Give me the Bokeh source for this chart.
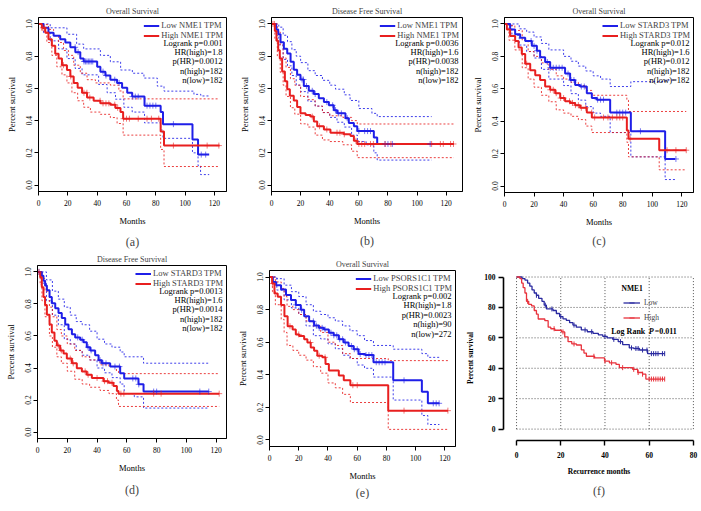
import numpy as np
from bokeh.plotting import figure
from bokeh.layouts import row, column
from bokeh.models import Range1d, FixedTicker, Legend, LegendItem, Label, Title, Spacer
from bokeh.embed import file_html
from bokeh.resources import INLINE

FONT = "Liberation Serif"
BLUE = "#1f1fe8"
RED = "#e81f1f"
F_BLUE = "#2a2aa0"
F_RED = "#e8323c"

km_xticks = [0, 20, 40, 60, 80, 100, 120]
km_yticks = [0.0, 0.2, 0.4, 0.6, 0.8, 1.0]
km_ylabels = ["0.0", "0.2", "0.4", "0.6", "0.8", "1.0"]
f_xticks = [0, 20, 40, 60, 80]
f_yticks = [0, 20, 40, 60, 80, 100]

# ---------------- panel (a) : Overall survival, NME1 ----------------
a_low = [(0, 1.0), (3.4, 0.976), (6.8, 0.946), (10.3, 0.926), (14.8, 0.905), (18.3, 0.885), (21.7, 0.855),
         (25.1, 0.825), (28.5, 0.785), (30.8, 0.767), (40, 0.734), (42.2, 0.704), (45.6, 0.68), (49, 0.654),
         (53.6, 0.634), (57, 0.604), (60.5, 0.573), (63.9, 0.549), (72.3, 0.493), (83.3, 0.453), (84.9, 0.378),
         (105, 0.283), (108.8, 0.189), (116.4, 0.189)]
a_high = [(0, 1.0), (2.3, 0.976), (4.6, 0.946), (6.8, 0.905), (9.1, 0.865), (11.4, 0.815), (13.7, 0.785),
          (16, 0.744), (19.4, 0.714), (21.7, 0.674), (24, 0.634), (26.7, 0.604), (29.7, 0.573), (33.1, 0.543),
          (37.6, 0.523), (42.2, 0.507), (49, 0.499), (52.5, 0.479), (55.9, 0.453), (57.7, 0.412), (83.3, 0.332),
          (85.6, 0.245), (123.5, 0.245)]
a_low_upper = [(0, 1.0), (8, 0.976), (19.4, 0.936), (26, 0.875), (30.8, 0.845), (42.2, 0.805), (49, 0.765),
               (56, 0.714), (64, 0.694), (71.9, 0.664), (81, 0.614), (85.6, 0.583), (106, 0.563), (110.7, 0.553),
               (116.4, 0.553)]
a_low_lower = [(0, 1.0), (3.4, 0.946), (8, 0.895), (13.7, 0.845), (19.4, 0.785), (25, 0.724), (29.7, 0.684),
               (41, 0.624), (46.8, 0.573), (52.5, 0.533), (58.2, 0.483), (63.9, 0.453), (72.3, 0.386),
               (83.3, 0.342), (84.9, 0.29), (105, 0.2), (108.8, 0.12), (110.5, 0.065), (116.4, 0.065)]
a_high_upper = [(0, 1.0), (2.3, 0.996), (6.8, 0.966), (10.3, 0.926), (13.7, 0.885), (17.1, 0.835), (20.5, 0.805),
                (24, 0.744), (28.5, 0.694), (33.1, 0.654), (38.8, 0.634), (49, 0.62), (54.8, 0.584),
                (57.7, 0.535), (123.5, 0.535)]
a_high_lower = [(0, 1.0), (2.3, 0.956), (5.7, 0.885), (9.1, 0.805), (12.5, 0.734), (16, 0.684), (19.4, 0.634),
                (22.8, 0.573), (26.7, 0.523), (30.8, 0.483), (35.4, 0.453), (42.2, 0.439), (49, 0.419),
                (53.6, 0.382), (57.7, 0.31), (83.3, 0.221), (85.6, 0.115), (123.5, 0.115)]
a_low_cens = [25, 27, 31, 32, 33, 34, 35, 36, 37, 44, 46, 52, 55, 64, 66, 68, 74, 76, 78, 80, 92, 111, 114]
a_high_cens = [3, 4, 17, 22, 31, 33, 35, 42, 44, 46, 48, 52, 54, 58, 60, 62, 68, 74, 77, 82, 92, 115, 123]
a_stats = ["Logrank p=0.001", "HR(high)=1.8", "p(HR)=0.0012", "n(high)=182", "n(low)=182"]

# ---------------- panel (b) : Disease free survival, NME1 ----------------
b_low = [(0, 1.0), (3.2, 0.966), (4.6, 0.936), (6.2, 0.886), (8.5, 0.846), (10.8, 0.816), (13.1, 0.766),
         (15.3, 0.715), (17.6, 0.685), (19.9, 0.655), (22.2, 0.615), (25.6, 0.585), (29.1, 0.565), (32.5, 0.539),
         (36, 0.515), (39.4, 0.495), (42.8, 0.465), (45.1, 0.445), (50.8, 0.415), (53.1, 0.385), (56.6, 0.365),
         (58.9, 0.335), (70.3, 0.295), (72.6, 0.255), (110, 0.255)]
b_high = [(0, 1.0), (2.3, 0.956), (3.4, 0.896), (4.6, 0.836), (5.7, 0.786), (7.3, 0.705), (9.2, 0.645),
          (10.8, 0.595), (12.6, 0.555), (15.3, 0.525), (17.6, 0.485), (19.9, 0.445), (23.4, 0.435), (26.8, 0.425),
          (29.1, 0.395), (31.4, 0.365), (36, 0.345), (40.5, 0.325), (49.7, 0.315), (54.3, 0.305), (56.6, 0.275),
          (58.9, 0.255), (125.3, 0.255)]
b_low_upper = [(0, 1.0), (5, 0.98), (8, 0.93), (11, 0.89), (14, 0.84), (17, 0.8), (20, 0.76), (25, 0.71),
               (30, 0.68), (35, 0.65), (40, 0.62), (44, 0.595), (50, 0.56), (54, 0.525), (60, 0.475), (69, 0.445),
               (72.6, 0.425), (110, 0.425)]
b_low_lower = [(0, 1.0), (3.2, 0.93), (5, 0.87), (8, 0.78), (11, 0.74), (14, 0.68), (17, 0.62), (20, 0.58),
               (25, 0.52), (30, 0.49), (35, 0.45), (40, 0.42), (45, 0.39), (50, 0.36), (55, 0.31), (59, 0.27),
               (65, 0.25), (70.3, 0.2), (72.6, 0.155), (110, 0.155)]
b_high_upper = [(0, 1.0), (2.3, 1.0), (4, 0.95), (6, 0.87), (8, 0.79), (10, 0.73), (13, 0.66), (16, 0.62),
                (20, 0.55), (25, 0.53), (30, 0.49), (35, 0.45), (40, 0.43), (49, 0.42), (55, 0.4), (58.9, 0.379),
                (125.3, 0.379)]
b_high_lower = [(0, 1.0), (2.3, 0.91), (4, 0.8), (6, 0.7), (8, 0.62), (10, 0.55), (13, 0.48), (16, 0.44),
                (20, 0.38), (25, 0.36), (30, 0.31), (35, 0.28), (40, 0.27), (49, 0.25), (55, 0.21), (58.9, 0.17),
                (125.3, 0.17)]
b_low_cens = [21, 22, 24, 28, 30, 38, 42, 44, 46, 48, 52, 60, 64, 66, 68, 78, 80, 83, 109]
b_high_cens = [1, 2, 28, 33, 38, 45, 47, 50, 58, 60, 62, 64, 68, 70, 78, 82, 110, 116, 118, 123, 125]
b_stats = ["Logrank p=0.0036", "HR(high)=1.6", "p(HR)=0.0038", "n(high)=182", "n(low)=182"]

# ---------------- panel (c) : Overall survival, STARD3 ----------------
c_low = [(0, 1.0), (3.8, 0.966), (7.2, 0.936), (10.6, 0.915), (14, 0.895), (18.5, 0.865), (21.9, 0.835),
         (24.1, 0.795), (27.5, 0.765), (30.9, 0.73), (41, 0.694), (44.4, 0.654), (47.8, 0.624), (51.2, 0.614),
         (55.7, 0.573), (59.1, 0.543), (62.5, 0.533), (71.5, 0.453), (85.5, 0.338), (108.7, 0.167),
         (115.5, 0.167)]
c_high = [(0, 1.0), (1.6, 0.966), (3.8, 0.926), (7.2, 0.895), (9.5, 0.855), (11.7, 0.815), (14, 0.755),
          (17.4, 0.714), (20.8, 0.684), (24.1, 0.654), (27.5, 0.614), (30.9, 0.594), (34.3, 0.573), (37.7, 0.543),
          (41, 0.523), (44.4, 0.513), (47.8, 0.499), (51.2, 0.483), (55.7, 0.453), (59.1, 0.423), (82.8, 0.342),
          (83.9, 0.292), (104.7, 0.221), (123, 0.221)]
c_low_upper = [(0, 1.0), (5, 1.0), (10, 0.97), (15, 0.95), (20, 0.92), (25, 0.88), (30, 0.84), (40, 0.8),
               (45, 0.77), (50, 0.74), (55, 0.71), (60, 0.68), (65, 0.66), (71.5, 0.614), (85.5, 0.644),
               (108.7, 0.654), (115.5, 0.654)]
c_low_lower = [(0, 1.0), (5, 0.93), (10, 0.87), (15, 0.83), (20, 0.79), (25, 0.72), (30, 0.66), (40, 0.62),
               (45, 0.57), (50, 0.53), (55, 0.49), (60, 0.45), (65, 0.43), (71.5, 0.33), (85.5, 0.18),
               (108.7, 0.04), (115.5, 0.04)]
c_high_upper = [(0, 1.0), (3, 0.99), (7, 0.96), (12, 0.9), (16, 0.83), (20, 0.8), (25, 0.76), (30, 0.72),
                (35, 0.68), (40, 0.66), (45, 0.64), (50, 0.62), (55, 0.59), (59.1, 0.56), (82.8, 0.53),
                (83.9, 0.46), (123, 0.46)]
c_high_lower = [(0, 1.0), (3, 0.9), (7, 0.84), (12, 0.73), (16, 0.66), (20, 0.61), (25, 0.56), (30, 0.52),
                (35, 0.47), (40, 0.45), (45, 0.43), (50, 0.41), (55, 0.37), (59.1, 0.33), (82.8, 0.27),
                (83.9, 0.18), (104.7, 0.1), (123, 0.1)]
c_low_cens = [18, 20, 22, 29, 31, 33, 35, 37, 39, 43, 45, 47, 52, 54, 63, 65, 67, 76, 78, 80, 82, 92, 116]
c_high_cens = [15, 31, 33, 35, 38, 40, 44, 46, 48, 50, 52, 55, 59, 61, 67, 70, 73, 76, 78, 80, 85, 110, 116, 123]
c_stats = ["Logrank p=0.012", "HR(high)=1.6", "p(HR)=0.012", "n(high)=182", "n(low)=182"]

# ---------------- panel (d) : Disease free survival, STARD3 ----------------
d_low = [(0, 1.0), (2.9, 0.976), (4, 0.945), (5.1, 0.915), (6.3, 0.885), (8.1, 0.844), (9.6, 0.804),
         (11.9, 0.773), (14.1, 0.743), (16.3, 0.713), (18.6, 0.672), (20.8, 0.642), (23.1, 0.611), (25.3, 0.591),
         (28.7, 0.577), (30.9, 0.561), (33.1, 0.53), (35.4, 0.51), (38.7, 0.48), (41, 0.449), (43.2, 0.429),
         (48.8, 0.409), (55.5, 0.368), (58.2, 0.335), (67.8, 0.298), (71.2, 0.253), (115, 0.253)]
d_high = [(0, 1.0), (1.8, 0.966), (2.9, 0.905), (4, 0.844), (5.1, 0.794), (6.3, 0.733), (8.1, 0.672),
          (9.6, 0.621), (11.4, 0.571), (13, 0.54), (15.2, 0.51), (17.5, 0.49), (19.7, 0.459), (23.1, 0.429),
          (26.4, 0.399), (29.8, 0.379), (33.1, 0.358), (36.5, 0.338), (44.3, 0.318), (47.7, 0.308), (51, 0.287),
          (53.3, 0.257), (54.4, 0.24), (122, 0.24)]
d_low_upper = [(0, 1.0), (3, 1.0), (6, 0.95), (10, 0.88), (14, 0.83), (18, 0.78), (22, 0.73), (26, 0.69),
               (30, 0.67), (35, 0.63), (40, 0.58), (45, 0.55), (50, 0.53), (55.5, 0.5), (58.2, 0.47),
               (71.2, 0.43), (115, 0.43)]
d_low_lower = [(0, 1.0), (3, 0.93), (6, 0.82), (10, 0.73), (14, 0.67), (18, 0.58), (22, 0.55), (26, 0.51),
               (30, 0.48), (35, 0.45), (40, 0.4), (45, 0.37), (50, 0.34), (55.5, 0.3), (58.2, 0.24), (65, 0.22),
               (71.2, 0.15), (115, 0.15)]
d_high_upper = [(0, 1.0), (1.8, 1.0), (3, 0.96), (5, 0.88), (8, 0.78), (10, 0.72), (13, 0.64), (16, 0.6),
                (20, 0.55), (25, 0.51), (30, 0.47), (35, 0.45), (42, 0.42), (48, 0.41), (53, 0.38),
                (54.4, 0.365), (122, 0.365)]
d_high_lower = [(0, 1.0), (1.8, 0.92), (3, 0.82), (5, 0.72), (8, 0.6), (10, 0.53), (13, 0.47), (16, 0.43),
                (20, 0.38), (25, 0.33), (30, 0.3), (35, 0.28), (42, 0.26), (48, 0.24), (53, 0.2), (54.4, 0.16),
                (122, 0.16)]
d_low_cens = [1, 27, 30, 34, 36, 42, 44, 46, 52, 55, 64, 66, 68, 78, 80, 109, 115]
d_high_cens = [1, 14, 16, 22, 24, 32, 34, 40, 45, 47, 50, 56, 58, 78, 83, 122]
d_stats = ["Logrank p=0.0013", "HR(high)=1.6", "p(HR)=0.0014", "n(high)=182", "n(low)=182"]

# ---------------- panel (e) : Overall survival, PSORS1C1 ----------------
e_low = [(0, 1.0), (2.3, 0.97), (4.5, 0.95), (7.9, 0.924), (11.3, 0.889), (14.7, 0.859), (18, 0.829),
         (21.4, 0.799), (23.7, 0.759), (27.1, 0.728), (30.5, 0.702), (33.8, 0.688), (37.2, 0.678), (40.6, 0.658),
         (43.9, 0.642), (47.4, 0.618), (50.8, 0.598), (54.1, 0.577), (57.5, 0.557), (60.9, 0.527), (65.4, 0.521),
         (71.1, 0.477), (84.6, 0.366), (104.2, 0.296), (108.3, 0.225), (116.2, 0.225)]
e_high = [(0, 1.0), (1.8, 0.96), (3.4, 0.899), (5.6, 0.879), (7.9, 0.829), (10.2, 0.759), (12.4, 0.698),
          (15.8, 0.678), (18, 0.648), (20.3, 0.638), (23.7, 0.618), (25.9, 0.598), (28.2, 0.567), (30.5, 0.547),
          (32.7, 0.517), (36.1, 0.507), (38.3, 0.467), (40.6, 0.427), (47.4, 0.396), (50.8, 0.366), (55.3, 0.336),
          (81.2, 0.18), (122, 0.18)]
e_low_upper = [(0, 1.0), (5, 0.99), (10, 0.95), (15, 0.91), (20, 0.88), (25, 0.83), (30, 0.79), (35, 0.77),
               (40, 0.75), (45, 0.73), (50, 0.7), (55, 0.67), (60, 0.64), (65, 0.61), (71.1, 0.58), (84.6, 0.557),
               (104.2, 0.53), (108.3, 0.507), (116.2, 0.507)]
e_low_lower = [(0, 1.0), (5, 0.92), (10, 0.86), (15, 0.81), (20, 0.77), (25, 0.7), (30, 0.64), (35, 0.62),
               (40, 0.59), (45, 0.56), (50, 0.52), (55, 0.5), (60, 0.46), (65, 0.44), (71.1, 0.386), (84.6, 0.245),
               (104.2, 0.15), (108.3, 0.095), (116.2, 0.095)]
e_high_upper = [(0, 1.0), (2, 1.0), (4, 0.97), (8, 0.93), (10, 0.88), (12, 0.82), (16, 0.8), (20, 0.77),
                (25, 0.73), (30, 0.7), (35, 0.66), (40, 0.6), (45, 0.58), (50, 0.53), (55.3, 0.5), (81.2, 0.487),
                (122, 0.487)]
e_high_lower = [(0, 1.0), (2, 0.91), (4, 0.83), (8, 0.74), (10, 0.66), (12, 0.58), (16, 0.55), (20, 0.52),
                (25, 0.49), (30, 0.45), (35, 0.41), (40, 0.35), (45, 0.32), (50, 0.28), (55.3, 0.23),
                (81.2, 0.065), (122, 0.065)]
e_low_cens = [18, 22, 30, 32, 34, 36, 38, 42, 44, 46, 48, 50, 52, 56, 58, 60, 62, 66, 68, 70, 73, 75, 77, 79,
              92, 112, 114, 116]
e_high_cens = [2, 14, 20, 28, 34, 38, 57, 60, 92, 122]
e_stats = ["Logrank p=0.002", "HR(high)=1.8", "p(HR)=0.0023", "n(high)=90", "n(low)=272"]

# ---------------- panel (f) : Recurrence, NME1 (percent) ----------------
f_low = [(0, 100), (2.5, 99), (3.8, 98), (5, 96), (6, 94), (7, 91.5), (8, 89.5), (9, 88), (10, 86), (11.5, 84),
         (12.5, 81.5), (13.5, 79), (16.5, 78), (18, 76), (19.5, 74), (21, 72.5), (22.5, 71.5), (24, 70),
         (25.5, 68.4), (27, 67), (29.3, 65.2), (32, 64), (34.6, 63), (37, 62), (39, 61), (41, 60), (43.5, 59),
         (46, 57.5), (48, 55.6), (51, 53.4), (53, 53), (55.6, 52), (59.3, 49.6), (67, 49.6)]
f_high = [(0, 100), (1.5, 99), (2.3, 96), (3, 93), (3.8, 89.5), (4.5, 84), (5.5, 82), (6.8, 81), (8, 78),
          (9, 75.6), (9.8, 72.4), (12.8, 71.3), (14.3, 67), (15.5, 66), (17.3, 65), (20.3, 63.9), (21.8, 60.7),
          (23.3, 57.5), (25, 56), (27.1, 55.3), (29.3, 52.1), (30.5, 50), (31.6, 47.9), (35.3, 46.8),
          (39.8, 44.7), (42, 43.6), (45, 42.5), (46.5, 40.4), (52.5, 39.3), (54.8, 37.2), (57, 36.1),
          (58.5, 32.9), (67, 32.9)]
f_low_cens = [9, 13, 16, 20, 26, 31, 34, 40, 44, 47, 52, 54, 55, 57, 59, 61, 62, 63, 64, 66, 67]
f_high_cens = [5, 17, 21, 26, 35, 40, 43, 48, 53, 55, 57, 60, 61, 62, 63, 64, 65, 66, 67]


def xs(c):
    return [q[0] for q in c]


def ys(c):
    return [q[1] for q in c]


def at(curve, times):
    t = np.array(xs(curve))
    s = np.array(ys(curve))
    idx = np.searchsorted(t, np.array(times, dtype=float), side="right") - 1
    return s[np.clip(idx, 0, len(s) - 1)]


def base_axes(p, bold=False, tick_size="7.5px", lab_size="8.5px"):
    p.grid.visible = False
    p.background_fill_color = "white"
    p.border_fill_color = "white"
    p.axis.axis_line_color = "black"
    p.axis.major_tick_line_color = "black"
    p.axis.minor_tick_line_color = None
    p.axis.major_tick_out = 4
    p.axis.major_tick_in = 0
    p.axis.major_label_text_font = FONT
    p.axis.major_label_text_font_size = tick_size
    p.axis.major_label_text_color = "black"
    p.axis.axis_label_text_font = FONT
    p.axis.axis_label_text_font_size = lab_size
    p.axis.axis_label_text_color = "black"
    p.axis.axis_label_text_font_style = "bold" if bold else "normal"
    p.axis.major_label_text_font_style = "bold" if bold else "normal"


def tag_title(p, tag, standoff):
    p.add_layout(Title(text=f"({tag})", align="center", vertical_align="bottom", text_font=FONT,
                       text_font_size="12px", text_font_style="normal", standoff=standoff), "below")


def km_panel(title, tag, gene, low, high, low_up, low_lo, high_up, high_lo, low_c, high_c, stats, geom):
    w, bl, br, bt, fh, bb, xmax, tag_so = geom
    fw = w - bl - br
    p = figure(width=w, height=bt + fh + bb, min_border_left=bl, min_border_right=br,
               min_border_top=bt, min_border_bottom=bb, x_range=Range1d(0, xmax),
               y_range=Range1d(-0.04, 1.04), output_backend="svg", toolbar_location=None, title=title)
    p.title.align = "center"
    p.title.vertical_align = "middle"
    p.title.text_font = FONT
    p.title.text_font_size = "8px"
    p.title.text_font_style = "normal"
    p.title.standoff = 2
    p.outline_line_color = "black"
    p.outline_line_alpha = 1
    base_axes(p)
    p.xaxis.ticker = FixedTicker(ticks=km_xticks)
    p.yaxis.ticker = FixedTicker(ticks=km_yticks)
    p.yaxis.major_label_overrides = dict(zip(km_yticks, km_ylabels))
    p.yaxis.major_label_orientation = "vertical"
    p.xaxis.major_label_standoff = 4
    p.yaxis.major_label_standoff = 2
    p.xaxis.axis_label_standoff = 7
    p.yaxis.axis_label_standoff = 7
    p.xaxis.axis_label = "Months"
    p.yaxis.axis_label = "Percent survival"

    for c, col in ((low_up, BLUE), (low_lo, BLUE), (high_up, RED), (high_lo, RED)):
        p.step(xs(c), ys(c), mode="after", line_color=col, line_width=1, line_dash="2 2", line_alpha=0.85)
    rl = p.step(xs(low), ys(low), mode="after", line_color=BLUE, line_width=2)
    rh = p.step(xs(high), ys(high), mode="after", line_color=RED, line_width=2)
    p.scatter(low_c, at(low, low_c), marker="cross", size=6, line_color=BLUE, line_alpha=0.6, line_width=1)
    p.scatter(high_c, at(high, high_c), marker="cross", size=6, line_color=RED, line_alpha=0.6, line_width=1)

    leg = Legend(items=[LegendItem(label=f"Low {gene} TPM", renderers=[rl]),
                        LegendItem(label=f"High {gene} TPM", renderers=[rh])],
                 location="top_right", margin=2, padding=1, spacing=-2, label_height=9, glyph_height=9,
                 glyph_width=16, label_standoff=2, label_text_font=FONT, label_text_font_size="8.5px",
                 border_line_alpha=0, background_fill_alpha=0)
    p.add_layout(leg)
    for i, s in enumerate(stats):
        off = 25.8 + 9.6 * i
        p.add_layout(Label(x=xmax * (fw - 4) / fw, y=1.04 - off / fh * 1.08, text=s, text_align="right",
                           text_baseline="middle", text_font=FONT, text_font_size="8.5px", text_color="black"))
    tag_title(p, tag, tag_so)
    return p


# geometry: width, border left, right, top, frame height, border bottom, x max, tag standoff
pa = km_panel("Overall Survival", "a", "NME1", a_low, a_high, a_low_upper, a_low_lower, a_high_upper,
              a_high_lower, a_low_cens, a_high_cens, a_stats, (234, 38, 8, 17, 179, 56, 128.2, 7.6))
pb = km_panel("Disease Free Survival", "b", "NME1", b_low, b_high, b_low_upper, b_low_lower, b_high_upper,
              b_high_lower, b_low_cens, b_high_cens, b_stats, (234, 37, 6, 17, 179, 54, 131.2, 5.6))
pc = km_panel("Overall Survival", "c", "STARD3", c_low, c_high, c_low_upper, c_low_lower, c_high_upper,
              c_high_lower, c_low_cens, c_high_cens, c_stats, (232, 36, 7, 17, 179, 54, 127.9, 5))
pd_ = km_panel("Disease Free Survival", "d", "STARD3", d_low, d_high, d_low_upper, d_low_lower, d_high_upper,
               d_high_lower, d_low_cens, d_high_cens, d_stats, (234, 37, 8, 13, 178, 58, 126.9, 10))
pe = km_panel("Overall Survival", "e", "PSORS1C1", e_low, e_high, e_low_upper, e_low_lower, e_high_upper,
              e_high_lower, e_low_cens, e_high_cens, e_stats, (229, 33, 8, 13, 179, 50, 127.2, 0))

# ---------------- panel (f) ----------------
F_BT, F_FH, F_BB = 23, 170, 56
pf = figure(width=237, height=F_BT + F_FH + F_BB, min_border_left=39, min_border_right=6, min_border_top=F_BT,
            min_border_bottom=F_BB, x_range=Range1d(-5.9, 80.5), y_range=Range1d(-7.5, 101),
            output_backend="svg", toolbar_location=None)
pf.outline_line_color = None
base_axes(pf, bold=True, tick_size="7.5px", lab_size="7.5px")
nx, ny = len(f_xticks), len(f_yticks)
pf.segment(x0=f_xticks, y0=[f_yticks[0]] * nx, x1=f_xticks, y1=[f_yticks[-1]] * nx,
           line_color="#555555", line_dash="1 2", line_width=1)
pf.segment(x0=[f_xticks[0]] * ny, y0=f_yticks, x1=[f_xticks[-1]] * ny, y1=f_yticks,
           line_color="#555555", line_dash="1 2", line_width=1)
fl = pf.step(xs(f_low), ys(f_low), mode="after", line_color=F_BLUE, line_width=1.3)
fh_ = pf.step(xs(f_high), ys(f_high), mode="after", line_color=F_RED, line_width=1.3)
tl = pf.scatter(f_low_cens, at(f_low, f_low_cens), marker="dash", angle=np.pi / 2, size=5,
                line_color=F_BLUE, line_width=1)
th = pf.scatter(f_high_cens, at(f_high, f_high_cens), marker="dash", angle=np.pi / 2, size=5,
                line_color=F_RED, line_width=1)
pf.xaxis.ticker = FixedTicker(ticks=f_xticks)
pf.yaxis.ticker = FixedTicker(ticks=f_yticks)
pf.xaxis.bounds = (f_xticks[0], f_xticks[-1])
pf.yaxis.bounds = (f_yticks[0], f_yticks[-1])
pf.axis.axis_line_width = 1.6
pf.axis.major_tick_line_width = 1.4
pf.axis.major_tick_out = 5
pf.xaxis.major_label_standoff = 6
pf.yaxis.major_label_standoff = 3
pf.xaxis.axis_label_standoff = 6
pf.yaxis.axis_label_standoff = 6
pf.xaxis.axis_label = "Recurrence months"
pf.yaxis.axis_label = "Percent survival"
fleg = Legend(items=[LegendItem(label="Low", renderers=[fl, tl]), LegendItem(label="High", renderers=[fh_, th])],
              location=(120, 116), label_text_font=FONT, label_text_font_size="7.5px",
              glyph_width=17, glyph_height=13, label_height=13, spacing=2, padding=0, margin=0,
              label_standoff=4, border_line_alpha=0, background_fill_alpha=0)
pf.add_layout(fleg)
pf.add_layout(Label(x=52.3, y=92.5, text="NME1", text_align="center", text_baseline="middle", text_font=FONT,
                    text_font_size="7.5px", text_font_style="bold", text_color="black"))
for txt, xx, st in (("Log Rank", 42.85, "bold"), ("P", 59.8, "bold italic"), ("=0.011", 62.5, "bold")):
    pf.add_layout(Label(x=xx, y=64.2, text=txt, text_align="left", text_baseline="middle", text_font=FONT,
                        text_font_size="8px", text_font_style=st, text_color="black"))
tag_title(pf, "f", 7)

row1 = row(column(pa), column(pb), column(pc))
row2 = row(column(pd_), column(Spacer(width=229, height=5), pe), column(pf))
layout = column(row1, row2)
open("out.html", "w").write(file_html(layout, INLINE))
